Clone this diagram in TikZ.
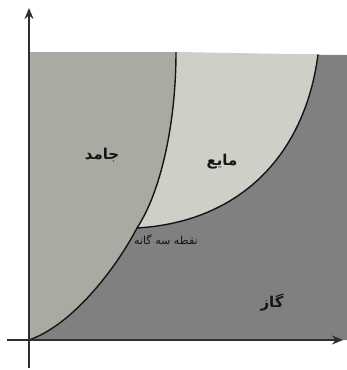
\documentclass[tikz,border=0pt]{standalone}
\usepackage{fontspec}
\newfontfamily\arabicfont[Script=Arabic]{DejaVu Sans}
\TeXXeTstate=1
\usetikzlibrary{arrows.meta,positioning,calc}
\definecolor{solidfill}{HTML}{AAAAA2}
\definecolor{liquidfill}{HTML}{CFCFC7}
\definecolor{gasfill}{HTML}{808080}
\definecolor{axisink}{HTML}{2E2E2E}
\definecolor{inkprimary}{HTML}{151515}

\begin{document}
\begin{tikzpicture}[
    x=0.02cm, y=0.02cm,
    axis/.style={-{Stealth[length=2.2mm,width=1.8mm]}, line width=1.1pt, draw=axisink},
    border/.style={line width=0.8pt, draw=inkprimary},
    phase/.style={font=\arabicfont\bfseries\fontsize{8.5}{10}\selectfont, text=inkprimary, inner sep=1pt},
    tplbl/.style={font=\arabicfont\fontsize{6.3}{7}\selectfont, text=inkprimary, inner sep=1pt},
  ]
  \useasboundingbox (0,0) rectangle (347,370);

  % corners of the diagram
  \coordinate (origin) at (29,30);
  \coordinate (triple) at (137,142);
  \coordinate (meltTop) at (176,318);
  \coordinate (boilTop) at (318,315.5);
  \coordinate (topLeft) at (29,318);
  \coordinate (topRight) at (347,315);
  \coordinate (botRight) at (347,30);

  % phase regions
  \fill[gasfill] (origin) -- (botRight) -- (topRight) -- (topLeft) -- cycle;
  \fill[solidfill] (origin) .. controls (72,45) and (115,100) .. (triple)
        .. controls (162,180) and (176,250) .. (meltTop) -- (topLeft) -- cycle;
  \fill[liquidfill] (triple) .. controls (162,180) and (176,250) .. (meltTop)
        -- (boilTop) .. controls (305,215) and (240,148) .. (triple) -- cycle;

  % phase boundaries
  \draw[border] (origin) .. controls (72,45) and (115,100) .. (triple);
  \draw[border] (triple) .. controls (162,180) and (176,250) .. (meltTop);
  \draw[border] (triple) .. controls (240,148) and (305,215) .. (boilTop);

  % axes
  \coordinate (xStart) at (7,30);
  \coordinate (xEnd) at (343,30);
  \coordinate (yStart) at (29,2);
  \coordinate (yEnd) at (29,362);
  \draw[axis] (xStart) -- (xEnd);
  \draw[axis] (yStart) -- (yEnd);

  % labels
  \node[phase] (solid) at (102,215) {\beginR جامد\endR};
  \node[phase] (liquid) at (222,208) {\beginR مایع\endR};
  \node[phase] (gas) at (272,67) {\beginR گاز\endR};
  \node[tplbl, anchor=west] (tplabel) at ($(triple)+(-5,-12)$) {\beginR نقطه سه گانه\endR};
\end{tikzpicture}
\end{document}
